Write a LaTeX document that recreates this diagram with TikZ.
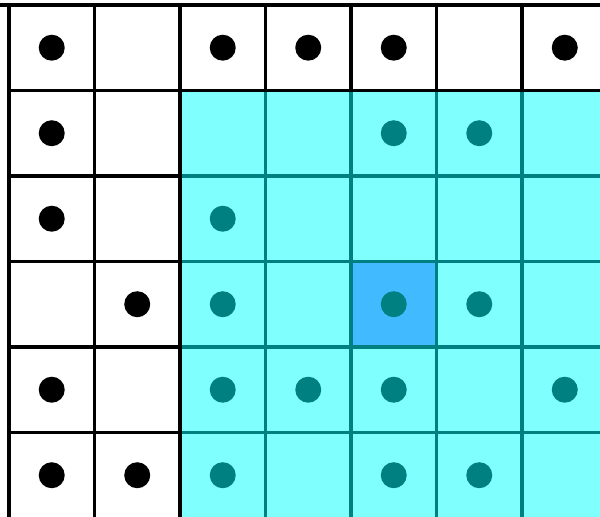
\documentclass[tikz,border=0pt]{standalone}
\usetikzlibrary{positioning}

\definecolor{regionfill}{RGB}{128,255,255}
\definecolor{regionline}{RGB}{0,128,128}
\definecolor{focusfill}{RGB}{66,186,255}

\begin{document}
\begin{tikzpicture}[
    x=1cm, y=-1cm,
    % Line and dot styles
    gridline/.style={draw=black, line width=1.2pt},
    regiongrid/.style={draw=regionline, line width=1.2pt},
    outdot/.style={fill=black},
    indot/.style={fill=regionline}
]

% 1. Canvas (margins of the reference)
\useasboundingbox (-0.105,-0.058) rectangle (6.912,5.988);
\clip (-0.105,-0.058) rectangle (6.912,5.988);
\fill[white] (-0.105,-0.058) rectangle (6.912,5.988);

% 2. Region and focus cell
\fill[regionfill] (2,1) rectangle (7,6);
\fill[focusfill] (4,3) rectangle (5,4);

% 3. Grid lines inside the region
\foreach \x in {3,...,6} \draw[regiongrid] (\x,1) -- (\x,6.2);
\foreach \y in {2,...,5} \draw[regiongrid] (2,\y) -- (7.2,\y);

% 4. Black grid lines outside the region
\foreach \x in {0,1,2} \draw[gridline] (\x,0) -- (\x,6.2);
\foreach \x in {3,...,6} \draw[gridline] (\x,0) -- (\x,1);
\draw[gridline] (-0.2,0) -- (7.2,0);
\draw[gridline] (0,1) -- (7.2,1);
\foreach \y in {2,...,5} \draw[gridline] (0,\y) -- (2,\y);

% 5. Dots outside the region
\foreach \c/\r in {0/0, 2/0, 3/0, 4/0, 6/0, 0/1, 0/2, 1/3, 0/4, 0/5, 1/5}
    \fill[outdot] (\c+0.5,\r+0.5) circle (0.152);

% 6. Dots inside the region
\foreach \c/\r in {4/1, 5/1, 2/2, 2/3, 4/3, 5/3, 2/4, 3/4, 4/4, 6/4, 2/5, 4/5, 5/5}
    \fill[indot] (\c+0.5,\r+0.5) circle (0.152);

\end{tikzpicture}
\end{document}
